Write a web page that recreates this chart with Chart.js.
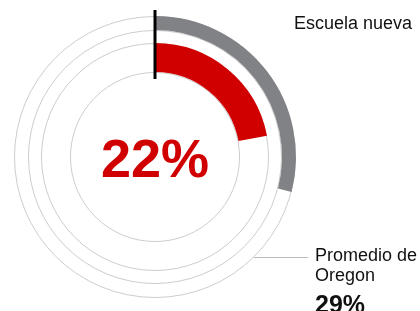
<!DOCTYPE html>
<html lang="es">
<head>
    <meta charset="UTF-8">
    <title>Escuela nueva vs Promedio de Oregon</title>
    <script src="https://cdn.jsdelivr.net/npm/chart.js"></script>
    <style>
        body {
            margin: 0;
            width: 420px;
            height: 311px;
            overflow: hidden;
            background: #fff;
            font-family: "Liberation Sans", Arial, sans-serif;
            position: relative;
        }
        #wrap {
            position: absolute;
            left: 0;
            top: 0;
            width: 420px;
            height: 311px;
        }
        .lbl {
            position: absolute;
            color: #111;
            font-size: 18px;
            line-height: 20px;
            white-space: nowrap;
        }
        #center {
            position: absolute;
            left: 55px;
            width: 200px;
            top: 128px;
            text-align: center;
            color: #d10000;
            font-weight: bold;
            font-size: 54px;
            line-height: 60px;
        }
    </style>
</head>
<body>
    <div id="wrap"><canvas id="ring"></canvas></div>
    <div id="center"></div>
    <div class="lbl" id="lblSchool" style="left:294px; top:13px;"></div>
    <div class="lbl" id="lblState" style="left:315px; top:245px;"></div>
    <div class="lbl" id="valState" style="left:315px; top:289px; font-size:25px; line-height:30px; font-weight:bold;"></div>

    <script>
        // datos
        const names = ['Escuela nueva', 'Promedio de Oregon'];
        const schoolValue = [22];
        const stateValue = [29];

        const red = '#d10000';
        const gray = '#808285';
        const thin = '#cccccc';

        document.getElementById('center').textContent = schoolValue[0] + '%';
        document.getElementById('lblSchool').textContent = names[0];
        document.getElementById('lblState').innerHTML = 'Promedio de<br>Oregon';
        document.getElementById('valState').textContent = stateValue[0] + '%';

        // circulos finos, linea negra y linea guia
        const decor = {
            id: 'decor',
            beforeDatasetsDraw(chart) {
                const ctx = chart.ctx;
                const outer = chart.getDatasetMeta(0).controller;
                const gap = chart.getDatasetMeta(1).controller;
                const inner = chart.getDatasetMeta(2).controller;
                const cx = (chart.chartArea.left + chart.chartArea.right) / 2;
                const cy = (chart.chartArea.top + chart.chartArea.bottom) / 2;
                const radii = [outer.outerRadius, gap.outerRadius, inner.outerRadius, inner.innerRadius];
                ctx.save();
                ctx.strokeStyle = thin;
                ctx.lineWidth = 1;
                radii.forEach(r => {
                    ctx.beginPath();
                    ctx.arc(cx, cy, r - 0.5, 0, Math.PI * 2);
                    ctx.stroke();
                });
                // linea guia hacia "Promedio de Oregon"
                const y = 257.5;
                const r0 = outer.outerRadius;
                const x0 = cx + Math.sqrt(r0 * r0 - (y - cy) * (y - cy));
                ctx.strokeStyle = '#bbbbbb';
                ctx.beginPath();
                ctx.moveTo(x0, y);
                ctx.lineTo(308, y);
                ctx.stroke();
                ctx.restore();
            },
            afterDatasetsDraw(chart) {
                const ctx = chart.ctx;
                const outer = chart.getDatasetMeta(0).controller;
                const inner = chart.getDatasetMeta(2).controller;
                const cx = (chart.chartArea.left + chart.chartArea.right) / 2;
                const cy = (chart.chartArea.top + chart.chartArea.bottom) / 2;
                ctx.save();
                ctx.strokeStyle = '#000';
                ctx.lineWidth = 3;
                ctx.beginPath();
                ctx.moveTo(cx, cy - outer.outerRadius - 6);
                ctx.lineTo(cx, cy - inner.innerRadius + 7);
                ctx.stroke();
                ctx.restore();
            }
        };

        new Chart(document.getElementById('ring').getContext('2d'), {
            type: 'doughnut',
            data: {
                labels: [names[0], ''],
                datasets: [{
                    label: names[1],
                    data: [stateValue[0], 100 - stateValue[0]],
                    backgroundColor: [gray, 'rgba(0,0,0,0)'],
                    weight: 14
                }, {
                    label: 'gap',
                    data: [100],
                    backgroundColor: ['rgba(0,0,0,0)'],
                    weight: 13
                }, {
                    label: names[0],
                    data: [schoolValue[0], 100 - schoolValue[0]],
                    backgroundColor: [red, 'rgba(0,0,0,0)'],
                    weight: 29
                }]
            },
            options: {
                responsive: true,
                maintainAspectRatio: false,
                animation: false,
                cutout: '60.3%',
                borderWidth: 0,
                events: [],
                layout: { padding: { left: 14, right: 124, top: 16, bottom: 13 } },
                plugins: {
                    legend: { display: false },
                    tooltip: { enabled: false }
                }
            },
            plugins: [decor]
        });
    </script>
</body>
</html>
